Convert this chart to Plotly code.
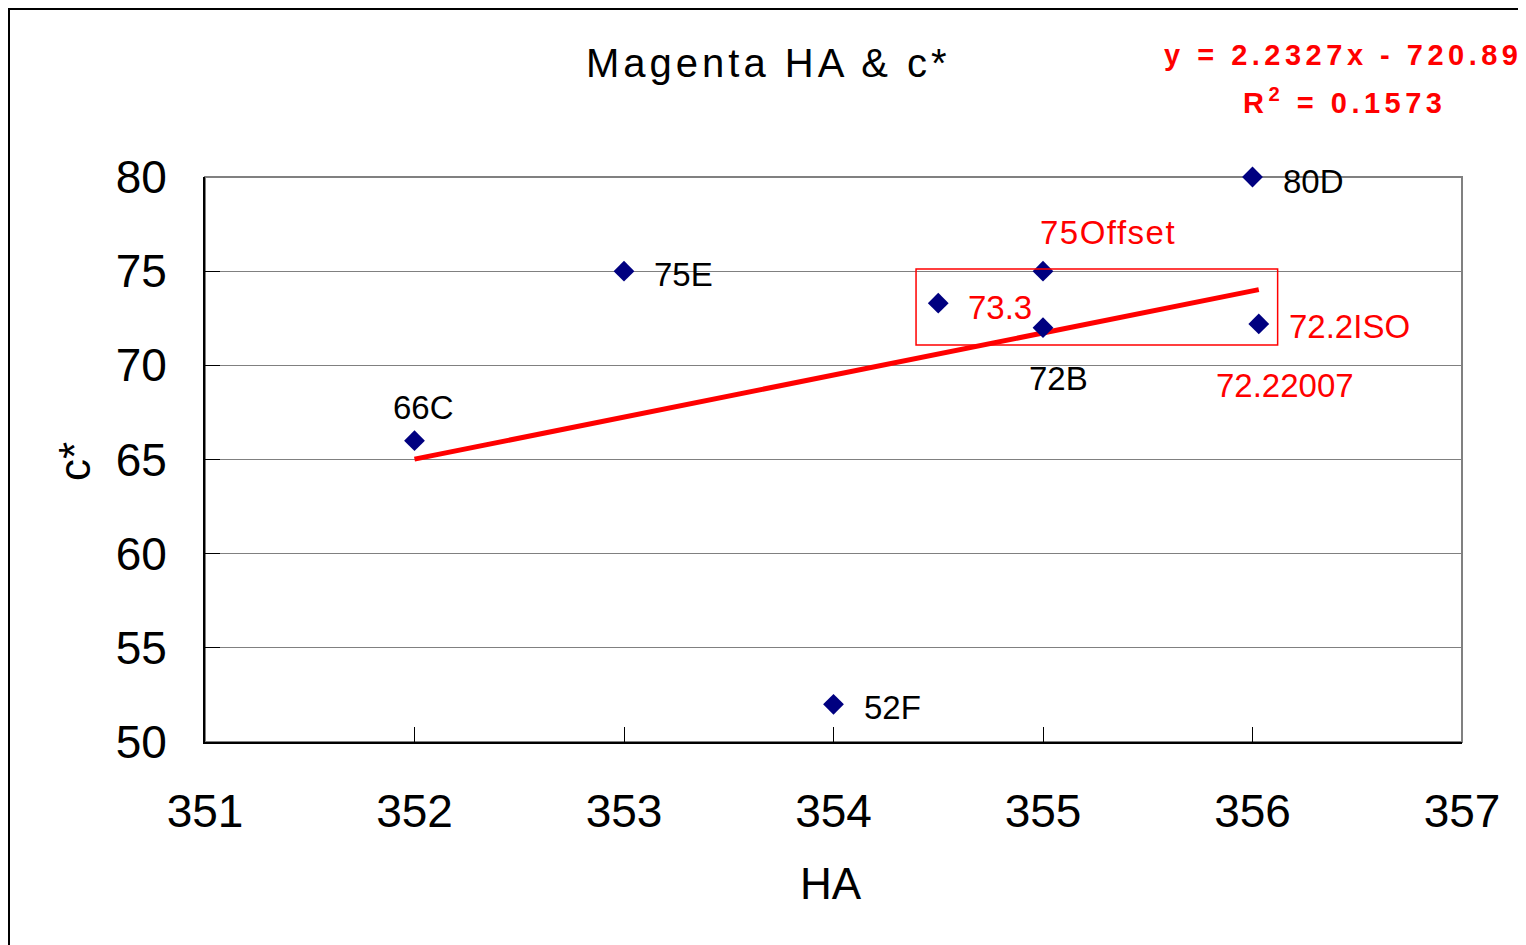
import plotly.graph_objects as go

# ---- data ----
point_names = ["66C", "75E", "52F", "75Offset", "72B", "80D", "73.3", "72.2ISO"]
ha_values = [352, 353, 354, 355, 355, 356, 354.5, 356.03]
c_values = [66, 75, 52, 75, 72, 80, 73.3, 72.2]
extra_label = "72.22007"

trend_slope = 2.2327
trend_intercept = -720.89
trend_r2 = 0.1573

x_ticks = [351, 352, 353, 354, 355, 356, 357]
y_ticks = [50, 55, 60, 65, 70, 75, 80]

# ---- figure geometry (page body has an 8px offset) ----
W, H = 1526, 945
OFF = 8
PL, PR, PT, PB = 205, 1462, 177, 742  # plot area in screen pixels
L, T = PL - OFF, PT - OFF
R = W + OFF - PR
B = H + OFF - PB
pw, ph = PR - PL, PB - PT


def px_to_paper_x(px):
    return (px - PL) / pw


def py_to_paper_y(py):
    return (PB - py) / ph


fig = go.Figure()

x_min, x_max = min(ha_values), max(ha_values)
fig.add_trace(go.Scatter(
    x=[x_min, x_max],
    y=[trend_slope * x_min + trend_intercept, trend_slope * x_max + trend_intercept],
    mode="lines", line=dict(color="#ff0000", width=5), showlegend=False, hoverinfo="skip",
    cliponaxis=False))

fig.add_trace(go.Scatter(
    x=ha_values, y=c_values, mode="markers",
    marker=dict(symbol="diamond", size=16, color="#000080"),
    showlegend=False, cliponaxis=False))

# label placements (styling only)
label_style = {
    "66C": dict(xshift=9, yshift=33, xanchor="center", color="black"),
    "75E": dict(xshift=28, yshift=-3, xanchor="left", color="black"),
    "52F": dict(xshift=28, yshift=-3, xanchor="left", color="black"),
    "75Offset": dict(xshift=65, yshift=39, xanchor="center", color="#ff0000"),
    "72B": dict(xshift=15, yshift=-51, xanchor="center", color="black"),
    "80D": dict(xshift=28, yshift=-4, xanchor="left", color="black"),
    "73.3": dict(xshift=28, yshift=-4, xanchor="left", color="#ff0000"),
    "72.2ISO": dict(xshift=28, yshift=-3, xanchor="left", color="#ff0000"),
}
for name, xv, yv in zip(point_names, ha_values, c_values):
    st = label_style[name]
    txt = name
    if name == "75Offset":
        txt = '<span style="letter-spacing:1.5px">' + name + '</span>'
    fig.add_annotation(x=xv, y=yv, xref="x", yref="y", text=txt, showarrow=False,
                       xanchor=st["xanchor"], yanchor="middle",
                       xshift=st["xshift"], yshift=st["yshift"],
                       font=dict(family="Liberation Sans", size=33, color=st["color"]))
# extra label under ISO point
iso_i = point_names.index("72.2ISO")
fig.add_annotation(x=ha_values[iso_i], y=c_values[iso_i], xref="x", yref="y",
                   text=extra_label, showarrow=False, xanchor="center", yanchor="middle",
                   xshift=26, yshift=-62,
                   font=dict(family="Liberation Sans", size=33, color="#ff0000"))

# chart title
fig.add_annotation(x=px_to_paper_x(768), y=py_to_paper_y(63), xref="paper", yref="paper",
                   text='<span style="letter-spacing:4px">Magenta HA &amp; c*</span>',
                   showarrow=False, xanchor="center", yanchor="middle",
                   font=dict(family="Liberation Sans", size=40, color="black"))

# trendline equation
fig.add_annotation(x=px_to_paper_x(1343), y=py_to_paper_y(55), xref="paper", yref="paper",
                   text=f'<span style="letter-spacing:4.5px">y = {trend_slope}x - {abs(trend_intercept)}</span>',
                   showarrow=False, xanchor="center", yanchor="middle",
                   font=dict(family="Liberation Sans", size=29, color="#ff0000", weight="bold"))
fig.add_annotation(x=px_to_paper_x(1344), y=py_to_paper_y(101), xref="paper", yref="paper",
                   text=f'<span style="letter-spacing:4.5px">R<sup>2</sup> = {trend_r2}</span>',
                   showarrow=False, xanchor="center", yanchor="middle",
                   font=dict(family="Liberation Sans", size=29, color="#ff0000", weight="bold"))

# axis titles
fig.add_annotation(x=px_to_paper_x(831), y=py_to_paper_y(883), xref="paper", yref="paper",
                   text="HA", showarrow=False, xanchor="center", yanchor="middle",
                   font=dict(family="Liberation Sans", size=44, color="black"))
fig.add_annotation(x=px_to_paper_x(74), y=py_to_paper_y(462), xref="paper", yref="paper",
                   text="c*", showarrow=False, xanchor="center", yanchor="middle", textangle=-90,
                   font=dict(family="Liberation Sans", size=44, color="black"))

# red highlight box
fig.add_shape(type="rect", xref="x", yref="y", x0=354.394, x1=356.12, y0=71.08, y1=75.11,
              line=dict(color="#ff0000", width=1.5), fillcolor="rgba(0,0,0,0)", layer="above")

# grey frame (top/right) behind axes
fig.add_shape(type="rect", xref="paper", yref="paper", x0=0, x1=1, y0=0, y1=1,
              line=dict(color="#808080", width=2), layer="below")

# outer chart border
fig.add_shape(type="rect", xref="paper", yref="paper",
              x0=px_to_paper_x(9), x1=1.5, y0=-0.6, y1=py_to_paper_y(9),
              line=dict(color="black", width=2), layer="below")

fig.update_xaxes(range=[351, 357], tickvals=x_ticks, ticktext=[str(v) for v in x_ticks],
                 showgrid=False, zeroline=False, showline=True, linecolor="black", linewidth=2,
                 ticks="inside", ticklen=15, tickcolor="black", tickwidth=1,
                 ticklabelstandoff=28,
                 tickfont=dict(family="Liberation Sans", size=46, color="black"))
fig.update_yaxes(range=[50, 80], tickvals=y_ticks, ticktext=[str(v) for v in y_ticks],
                 showgrid=True, gridcolor="#808080", gridwidth=1, zeroline=False,
                 showline=True, linecolor="black", linewidth=2,
                 ticks="inside", ticklen=15, tickcolor="black", tickwidth=1,
                 ticklabelstandoff=27,
                 tickfont=dict(family="Liberation Sans", size=46, color="black"))

fig.update_layout(width=W, height=H, margin=dict(l=L, r=R, t=T, b=B, autoexpand=False),
                  plot_bgcolor="white", paper_bgcolor="white", showlegend=False)

fig.write_html("out.html")
